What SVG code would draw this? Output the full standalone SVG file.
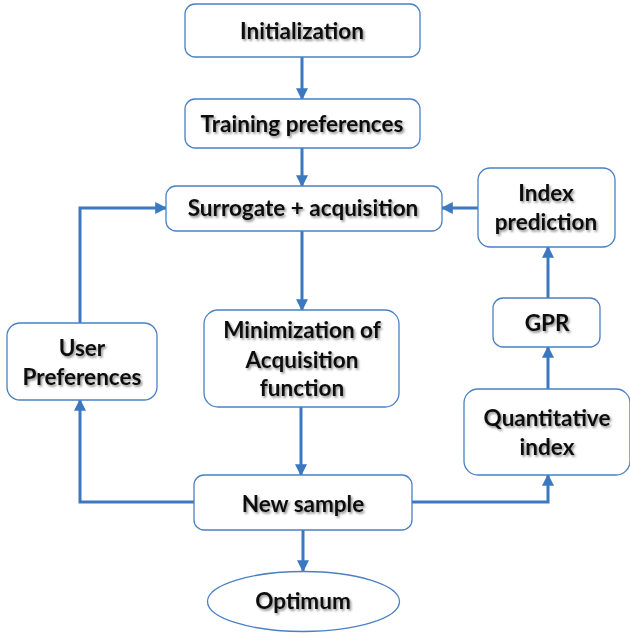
<svg xmlns="http://www.w3.org/2000/svg" width="630" height="636" viewBox="0 0 630 636">
  <defs>
    <style>
      .box { fill: #ffffff; stroke: #4a80c4; stroke-width: 1.3; }
      .lbl { font-family: Lato, "Liberation Sans", sans-serif; font-weight: bold; font-size: 22.5px; fill: #111111; text-anchor: middle; filter: url(#shadow); }
      .edge { fill: none; stroke: #3b78c0; stroke-width: 3; marker-end: url(#arrow); }
    </style>
    <marker id="arrow" viewBox="0 0 10 10" refX="9" refY="5" markerWidth="4" markerHeight="4" orient="auto" markerUnits="strokeWidth">
      <path d="M0,0 L10,5 L0,10 z" fill="#3b78c0"/>
    </marker>
    <filter id="shadow" x="-10%" y="-30%" width="130%" height="160%">
      <feDropShadow dx="1.5" dy="1.8" stdDeviation="1" flood-color="#000000" flood-opacity="0.45"/>
    </filter>
  </defs>

  <g id="connectors">
    <path class="edge" d="M302,57 V99"/>
    <path class="edge" d="M302,148 V186"/>
    <path class="edge" d="M302,231 V310"/>
    <path class="edge" d="M301,407 V475"/>
    <path class="edge" d="M303,530 V571"/>
    <path class="edge" d="M194,502 H80 V400"/>
    <path class="edge" d="M80,323 V208 H166"/>
    <path class="edge" d="M412,502 H548 V475"/>
    <path class="edge" d="M548,389 V347"/>
    <path class="edge" d="M548,298 V247"/>
    <path class="edge" d="M478,208 H442"/>
  </g>

  <g id="initialization">
    <rect class="box" x="185" y="4" width="235" height="53" rx="10"/>
    <text class="lbl" x="302" y="39">Initialization</text>
  </g>
  <g id="training-preferences">
    <rect class="box" x="185" y="99" width="235" height="49" rx="10"/>
    <text class="lbl" x="302" y="132">Training preferences</text>
  </g>
  <g id="surrogate-acquisition">
    <rect class="box" x="166" y="186" width="276" height="45" rx="10"/>
    <text class="lbl" x="303" y="216">Surrogate + acquisition</text>
  </g>
  <g id="index-prediction">
    <rect class="box" x="478" y="168" width="137" height="79" rx="12"/>
    <text class="lbl" x="546" y="201">Index</text>
    <text class="lbl" x="546" y="230">prediction</text>
  </g>
  <g id="gpr">
    <rect class="box" x="493" y="298" width="107" height="49" rx="10"/>
    <text class="lbl" x="547" y="331">GPR</text>
  </g>
  <g id="quantitative-index">
    <rect class="box" x="464" y="389" width="166" height="86" rx="14"/>
    <text class="lbl" x="547" y="426">Quantitative</text>
    <text class="lbl" x="547" y="455">index</text>
  </g>
  <g id="user-preferences">
    <rect class="box" x="7" y="323" width="150" height="77" rx="13"/>
    <text class="lbl" x="82" y="356">User</text>
    <text class="lbl" x="82" y="385">Preferences</text>
  </g>
  <g id="minimization">
    <rect class="box" x="204" y="310" width="195" height="97" rx="14"/>
    <text class="lbl" x="302" y="338">Minimization of</text>
    <text class="lbl" x="302" y="368">Acquisition</text>
    <text class="lbl" x="302" y="396">function</text>
  </g>
  <g id="new-sample">
    <rect class="box" x="194" y="475" width="218" height="55" rx="10"/>
    <text class="lbl" x="303" y="512">New sample</text>
  </g>
  <g id="optimum">
    <ellipse class="box" cx="303.5" cy="601.5" rx="96" ry="30"/>
    <text class="lbl" x="303" y="609">Optimum</text>
  </g>
</svg>
